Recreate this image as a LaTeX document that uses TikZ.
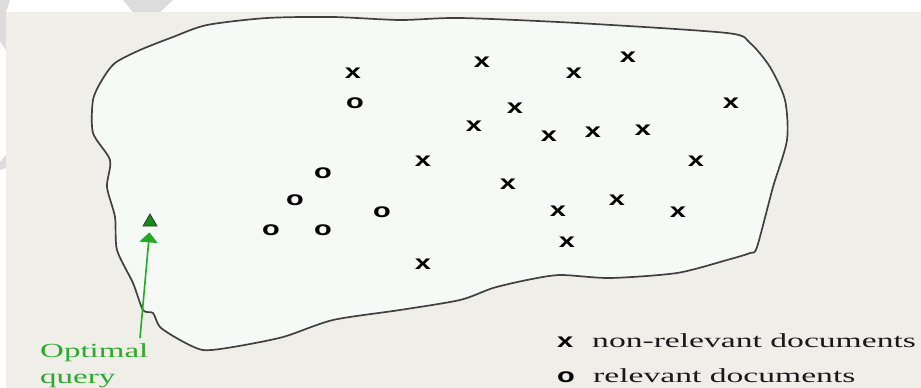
\documentclass[tikz,border=0pt]{standalone}
\usepackage{fontspec}
\setmainfont{Liberation Serif}
\newfontfamily\markfont{Liberation Sans}
\usetikzlibrary{arrows.meta,shapes.geometric}
\definecolor{bgray}{HTML}{EFEEE8}
\definecolor{blobfill}{HTML}{F6FAF7}
\definecolor{wmark}{HTML}{DCDCDC}
\definecolor{qgreen}{HTML}{22AA22}
\definecolor{tgreen}{HTML}{2EA82E}
\definecolor{qdark}{HTML}{178A17}
\newcommand{\sx}[2][1.45]{\scalebox{#1}[1]{#2}}
\begin{document}
\begin{tikzpicture}[x=1pt,y=-1pt,
  mk/.style={inner sep=0pt, text=black, font=\markfont\bfseries\fontsize{20}{20}\selectfont},
  lab/.style={inner sep=0pt, anchor=base west, text=black!90, font=\fontsize{20}{24}\selectfont},
  qlab/.style={inner sep=0pt, anchor=base west, text=tgreen, font=\fontsize{20}{24}\selectfont},
  outline/.style={draw=black!75, line width=1.7pt, fill=blobfill, line join=round},
  qarrow/.style={draw=qgreen, line width=1.6pt, -{Triangle[width=18pt,length=10pt]}, shorten >=6pt}
]
\useasboundingbox (0,0) rectangle (921,388);
\fill[white] (0,0) rectangle (921,388);
% watermark shapes
\fill[wmark] (123,0) -- (173,0) -- (160,12) -- (133,12) -- cycle;
\fill[wmark] (0,0) -- (10,0) -- (6,12) -- (6,50) -- (0,42) -- cycle;
\fill[wmark] (0,162) -- (6,155) -- (6,168) -- (0,170) -- cycle;
% background
\fill[bgray] (6,12) rectangle (921,388);
% blob
\draw[outline] plot[smooth cycle, tension=0.45] coordinates {
 (115,63) (140,50) (173,37) (207,25) (267,18) (333,17) (400,20) (460,18)
 (577,23) (727,33) (750,43) (770,67) (785,100) (787,140) (773,187) (757,247)
 (750,253) (727,260) (677,273) (610,278) (560,275) (527,280) (493,288) (460,300)
 (400,310) (333,320) (283,337) (233,347) (203,350) (180,340) (160,327) (153,313)
 (143,310) (133,283) (117,250) (115,217) (107,187) (110,160) (93,133) (93,100) (102,80)};
% non-relevant documents
\node[mk] (n1) at (353,73) {\sx{x}};
\node[mk] (n2) at (482,62) {\sx{x}};
\node[mk] (n3) at (574,73) {\sx{x}};
\node[mk] (n4) at (628,57) {\sx{x}};
\node[mk] (n5) at (731,103) {\sx{x}};
\node[mk] (n6) at (515,108) {\sx{x}};
\node[mk] (n7) at (474,126) {\sx{x}};
\node[mk] (n8) at (549,136) {\sx{x}};
\node[mk] (n9) at (593,132) {\sx{x}};
\node[mk] (n10) at (643,130) {\sx{x}};
\node[mk] (n11) at (423,161) {\sx{x}};
\node[mk] (n12) at (696,161) {\sx{x}};
\node[mk] (n13) at (508,184) {\sx{x}};
\node[mk] (n14) at (558,211) {\sx{x}};
\node[mk] (n15) at (617,200) {\sx{x}};
\node[mk] (n16) at (678,212) {\sx{x}};
\node[mk] (n17) at (567,242) {\sx{x}};
\node[mk] (n18) at (423,264) {\sx{x}};
% relevant documents
\node[mk] (r1) at (355,103) {\sx{o}};
\node[mk] (r2) at (323,173) {\sx{o}};
\node[mk] (r3) at (295,200) {\sx{o}};
\node[mk] (r4) at (382,212) {\sx{o}};
\node[mk] (r5) at (271,230) {\sx{o}};
\node[mk] (r6) at (323,230) {\sx{o}};
% optimal query
\node[regular polygon, regular polygon sides=3, minimum size=16pt, inner sep=0pt,
      fill=qdark, draw=black!80, line width=0.8pt] (q) at (150,222) {};
\coordinate (qtail) at (140,338);
\draw[qarrow] (qtail) -- (q.south);
\node[qlab] (ql1) at (40,357) {\sx[1.65]{Optimal}};
\node[qlab] (ql2) at (40,383) {\sx[1.65]{query}};
% legend
\node[mk, anchor=base west] (lx) at (557,347) {\sx{x}};
\node[lab] (lt1) at (592,347) {\sx[1.68]{non-relevant documents}};
\node[mk, anchor=base west] (lo) at (557,382) {\sx{o}};
\node[lab] (lt2) at (593,382) {\sx[1.68]{relevant documents}};
\end{tikzpicture}
\end{document}
